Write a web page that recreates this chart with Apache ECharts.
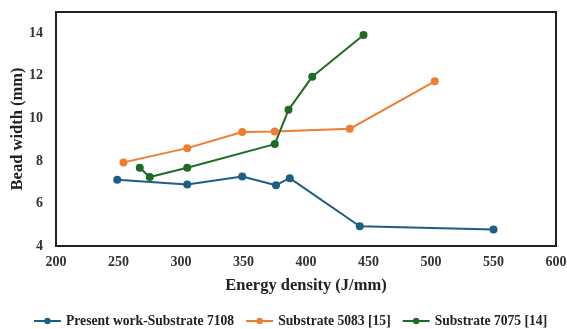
<!DOCTYPE html>
<html><head><meta charset="utf-8">
<script src="https://cdn.jsdelivr.net/npm/echarts@6/dist/echarts.min.js"></script>
<style>html,body{margin:0;padding:0;background:#fff}#c{width:567px;height:329px}</style>
</head><body><div id="c"></div>
<script>
const seriesNames = ["Present work-Substrate 7108", "Substrate 5083 [15]", "Substrate 7075 [14]"];
const presentX = [249, 305, 349, 376, 387, 443, 550];
const presentY = [7.11, 6.89, 7.27, 6.86, 7.19, 4.93, 4.78];
const s5083X = [254, 305, 349, 375, 435, 503];
const s5083Y = [7.93, 8.6, 9.36, 9.38, 9.51, 11.74];
const s7075X = [267, 275, 305, 375, 386, 405, 446];
const s7075Y = [7.68, 7.24, 7.68, 8.79, 10.4, 11.96, 13.92];
const colors = ["#1d5e85", "#ed7d31", "#1e6b26"];

const zip = (xs, ys) => xs.map((x, i) => [x, ys[i]]);
const data = [zip(presentX, presentY), zip(s5083X, s5083Y), zip(s7075X, s7075Y)];
const font = "'Liberation Serif', 'Times New Roman', serif";

const chart = echarts.init(document.getElementById('c'), null, {renderer: 'canvas'});
chart.setOption({
  animation: false,
  backgroundColor: '#fff',
  grid: {left: 56, right: 11, top: 12, bottom: 83, show: true, borderColor: '#222', borderWidth: 2,
         containLabel: false, outerBoundsMode: 'none'},
  legend: {
    top: 309, left: 28,
    itemWidth: 27, itemHeight: 8, itemGap: 11,
    textStyle: {fontFamily: font, fontWeight: 'bold', fontSize: 13.6, color: '#222'},
    data: seriesNames
  },
  xAxis: {
    type: 'value', min: 200, max: 600, interval: 50,
    name: 'Energy density (J/mm)', nameLocation: 'middle', nameGap: 31, nameMoveOverlap: false,
    nameTextStyle: {fontFamily: font, fontWeight: 'bold', fontSize: 16.5, color: '#222'},
    axisLine: {show: true, lineStyle: {color: '#222', width: 2}},
    axisTick: {show: false},
    splitLine: {show: false},
    axisLabel: {fontFamily: font, fontWeight: 'bold', fontSize: 14, color: '#333', margin: 9}
  },
  yAxis: {
    type: 'value', min: 4, max: 15, interval: 2,
    name: 'Bead width (mm)', nameLocation: 'middle', nameGap: 30, nameMoveOverlap: false,
    nameTextStyle: {fontFamily: font, fontWeight: 'bold', fontSize: 16.5, color: '#222'},
    axisLine: {show: true, lineStyle: {color: '#222', width: 2}},
    axisTick: {show: false},
    splitLine: {show: false},
    axisLabel: {fontFamily: font, fontWeight: 'bold', fontSize: 14, color: '#333', margin: 13, showMaxLabel: false}
  },
  series: seriesNames.map((n, i) => ({
    name: n, type: 'line', data: data[i],
    symbol: 'circle', symbolSize: 8,
    lineStyle: {color: colors[i], width: 2},
    itemStyle: {color: colors[i]}
  }))
});
</script></body></html>
